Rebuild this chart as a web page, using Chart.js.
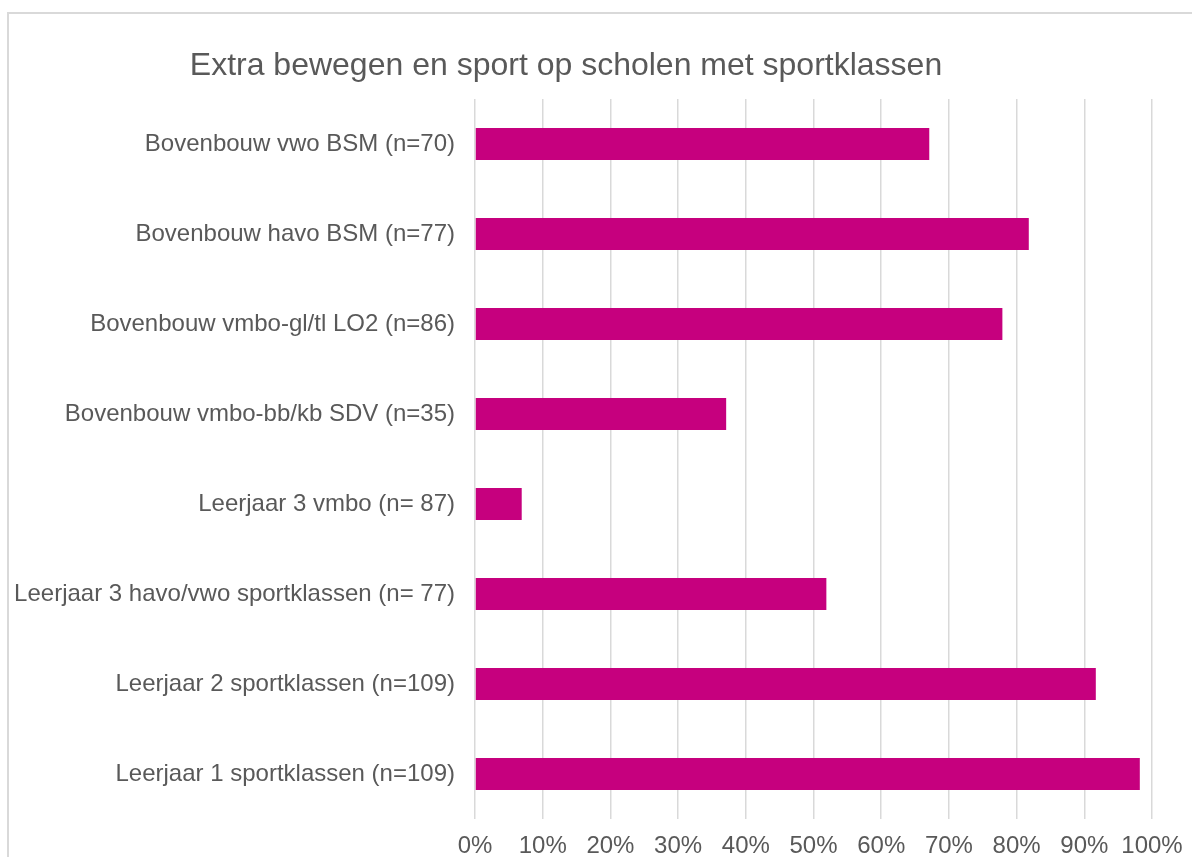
<!DOCTYPE html>
<html>
<head>
<meta charset="utf-8">
<script src="https://cdn.jsdelivr.net/npm/chart.js@4/dist/chart.umd.min.js"></script>
<style>
  html, body { margin: 0; padding: 0; width: 1192px; height: 857px; overflow: hidden; background: #fff; }
  #frame { position: absolute; left: 7px; top: 12px; width: 1300px; height: 1000px;
           border-top: 2px solid #d9d9d9; border-left: 2px solid #d9d9d9; box-sizing: border-box; }
  #c { position: absolute; left: -20px; top: 0; }
</style>
</head>
<body>
<div id="frame"></div>
<canvas id="c" width="1216" height="857"></canvas>
<script>
const chartTitle = 'Extra bewegen en sport op scholen met sportklassen';
const categories = [
  'Bovenbouw vwo BSM (n=70)',
  'Bovenbouw havo BSM (n=77)',
  'Bovenbouw vmbo-gl/tl LO2 (n=86)',
  'Bovenbouw vmbo-bb/kb SDV (n=35)',
  'Leerjaar 3 vmbo (n= 87)',
  'Leerjaar 3 havo/vwo sportklassen (n= 77)',
  'Leerjaar 2 sportklassen (n=109)',
  'Leerjaar 1 sportklassen (n=109)'
];
const values = [67.1, 81.8, 77.9, 37.1, 6.9, 51.9, 91.7, 98.2];
const xTickLabels = ['0%', '10%', '20%', '30%', '40%', '50%', '60%', '70%', '80%', '90%', '100%'];

const textColor = '#595959';
const fontFamily = '"Liberation Sans", Arial, sans-serif';

new Chart(document.getElementById('c'), {
  type: 'bar',
  data: {
    labels: categories,
    datasets: [{
      data: values,
      backgroundColor: '#C6007E',
      borderWidth: 0,
      barPercentage: 1,
      categoryPercentage: 0.356
    }]
  },
  options: {
    indexAxis: 'y',
    responsive: false,
    animation: false,
    devicePixelRatio: 1,
    layout: { padding: { left: 0, right: 44, top: 0, bottom: 0 } },
    plugins: {
      legend: { display: false },
      tooltip: { enabled: false },
      title: {
        display: true,
        text: chartTitle,
        color: textColor,
        font: { family: fontFamily, size: 32, weight: 'normal', lineHeight: 1.2 },
        padding: { top: 47, bottom: 13.6 }
      }
    },
    scales: {
      x: {
        min: 0,
        max: 100,
        ticks: {
          stepSize: 10,
          color: textColor,
          font: { family: fontFamily, size: 24 },
          padding: 13,
          maxRotation: 0,
          callback: (v, i) => xTickLabels[i]
        },
        grid: { color: '#d9d9d9', lineWidth: 1.5, drawTicks: false },
        border: { display: false },
        afterFit: (s) => { s.height = 38; }
      },
      y: {
        ticks: {
          color: textColor,
          font: { family: fontFamily, size: 24 },
          padding: 20
        },
        grid: { display: false, drawTicks: false },
        border: { display: false },
        afterFit: (s) => { s.width = 495; }
      }
    }
  }
});
</script>
</body>
</html>
